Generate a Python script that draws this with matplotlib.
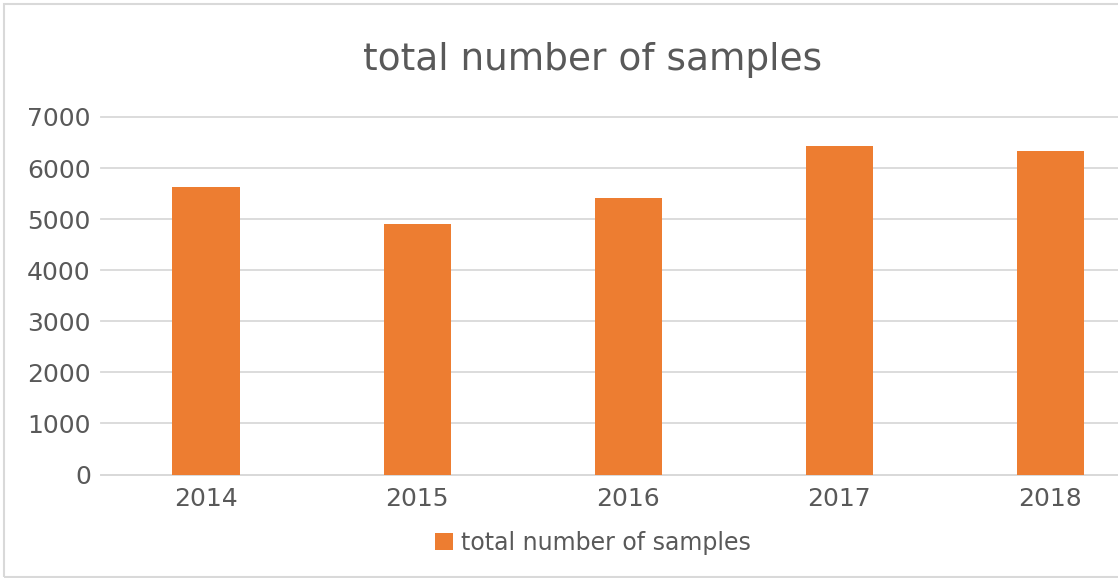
import matplotlib
matplotlib.use("Agg")
import matplotlib.pyplot as plt
from matplotlib.patches import Rectangle

plt.rcParams["font.family"] = ["DejaVu Sans"]

years = ["2014", "2015", "2016", "2017", "2018"]
samples = [5630, 4900, 5410, 6430, 6330]
series_name = "total number of samples"
yticks = [0, 1000, 2000, 3000, 4000, 5000, 6000, 7000]

W, H = 1118, 578
fig = plt.figure(figsize=(W / 100, H / 100), dpi=100)
fig.patch.set_facecolor("white")

text_color = "#595959"
grid_color = "#D9D9D9"
bar_color = "#ED7D31"

left_px, right_px = 100.5, 1156
top_px, bottom_px = 117, 474.5
ax = fig.add_axes([left_px / W, 1 - bottom_px / H,
                   (right_px - left_px) / W, (bottom_px - top_px) / H])

x = list(range(len(years)))
ax.bar(x, samples, width=0.318, color=bar_color, label=series_name, zorder=3)

ax.set_xlim(-0.5, len(years) - 0.5)
ax.set_ylim(0, 7000)
ax.set_yticks(yticks)
ax.set_yticklabels([str(v) for v in yticks])
ax.set_xticks(x)
ax.set_xticklabels(years)

for s in ["top", "right", "left"]:
    ax.spines[s].set_visible(False)
ax.spines["bottom"].set_color(grid_color)
ax.spines["bottom"].set_linewidth(1.3)
ax.spines["bottom"].set_zorder(2)

ax.yaxis.grid(True, color=grid_color, linewidth=1.3, zorder=0)
ax.set_axisbelow(True)
for gl in ax.get_ygridlines():
    gl.set_clip_on(False)
ax.tick_params(axis="both", length=0, labelsize=18, labelcolor=text_color)
ax.tick_params(axis="y", pad=7)
ax.tick_params(axis="x", pad=9)

fig.text(593 / W, 1 - 60 / H, "total number of samples", ha="center", va="center",
         fontsize=27, color=text_color)

leg = fig.legend(loc="center", bbox_to_anchor=(593 / W, 1 - 543 / H), frameon=False,
                 fontsize=17, handlelength=0.75, handleheight=0.75, handletextpad=0.35,
                 labelcolor=text_color)

fig.patches.append(Rectangle((3.5 / W, 1.5 / H), 1.2, (574.5 - 1.5) / H,
                             transform=fig.transFigure, fill=False,
                             edgecolor=grid_color, linewidth=1.5))

fig.savefig("out.png", dpi=100)
